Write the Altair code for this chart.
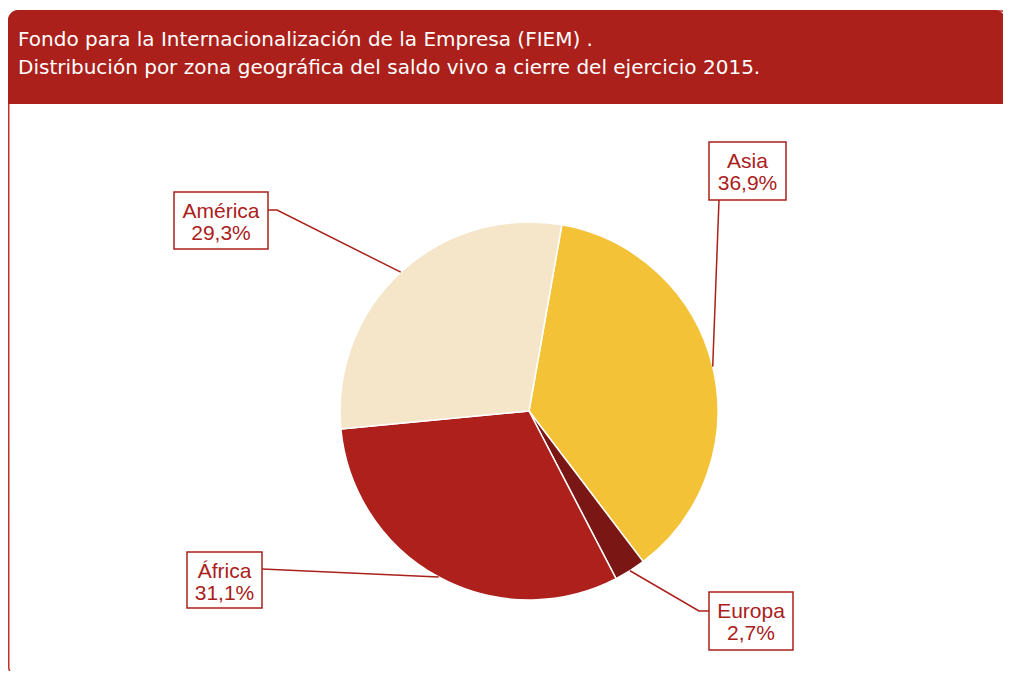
import math
import altair as alt
import pandas as pd

# ---- data ----
zones = ["Asia", "Europa", "África", "América"]
shares = [36.9, 2.7, 31.1, 29.3]
share_labels = ["36,9%", "2,7%", "31,1%", "29,3%"]
colors = ["#F4C236", "#7A1714", "#AD201C", "#F5E5C9"]
title_lines = [
    "Fondo para la Internacionalización de la Empresa (FIEM) .",
    "Distribución por zona geográfica del saldo vivo a cierre del ejercicio 2015.",
]

# ---- layout (chart pixel coordinates) ----
W, H = 995, 663
CX, CY, R = 521, 403, 189
START = math.radians(10)
RED = "#AB201B"

box_x1 = [701, 701, 179, 166]
box_x2 = [778, 785, 254, 260]
box_y1 = [134, 584, 544, 184]
box_y2 = [192, 642, 600, 241]
leader_start = [(711, 192), (701, 603), (254, 561), (260, 202)]
leader_elbow = [None, (691, 603), None, (269, 202)]

pie_df = pd.DataFrame({"zone": zones, "share": shares, "rank": list(range(len(zones)))})

# leader end points at mid-angle of each slice, on the rim
ends = []
cum = 0.0
total = sum(shares)
for s in shares:
    mid = START + (cum + s / 2) / total * 2 * math.pi
    ends.append((CX + R * math.sin(mid), CY - R * math.cos(mid)))
    cum += s

rows = []
for i, z in enumerate(zones):
    pts = [leader_start[i]]
    if leader_elbow[i]:
        pts.append(leader_elbow[i])
    pts.append(ends[i])
    for k, (px, py) in enumerate(pts):
        rows.append({"zone": z, "step": k, "px": px, "py": py})
line_df = pd.DataFrame(rows)

box_df = pd.DataFrame({
    "zone": zones, "x1": box_x1, "x2": box_x2, "y1": box_y1, "y2": box_y2,
    "pct": share_labels,
})
box_df["cx"] = (box_df["x1"] + box_df["x2"]) / 2
box_df["ty1"] = box_df["y1"] + 20
box_df["ty2"] = box_df["y1"] + 42

title_df = pd.DataFrame({"t": title_lines, "ty": [38, 66]})

# ---- frame ----
frame = alt.Chart(pd.DataFrame({"a": [0]})).mark_rect(
    fill="white", stroke="#C0302A", strokeWidth=1.5, cornerRadius=10
).encode(x=alt.value(0.75), x2=alt.value(1010), y=alt.value(3), y2=alt.value(669))

header = alt.Chart(pd.DataFrame({"a": [0]})).mark_rect(
    fill=RED, cornerRadiusTopLeft=10, cornerRadiusTopRight=10
).encode(x=alt.value(0), x2=alt.value(997), y=alt.value(2), y2=alt.value(96))

title = alt.Chart(title_df).mark_text(
    align="left", baseline="alphabetic", font="DejaVu Sans", fontSize=20, color="white"
).encode(x=alt.value(10), y=alt.Y("ty:Q", scale=None), text="t:N")

# ---- pie ----
pie = alt.Chart(pie_df).mark_arc(
    outerRadius=R, stroke="white", strokeWidth=1.5
).encode(
    theta=alt.Theta("share:Q", stack=True,
                    scale=alt.Scale(range=[START, START + 2 * math.pi])),
    order=alt.Order("rank:Q"),
    color=alt.Color("zone:N", scale=alt.Scale(domain=zones, range=colors), legend=None),
    x=alt.value(CX), y=alt.value(CY),
)

leaders = alt.Chart(line_df).mark_line(color=RED, strokeWidth=1.5).encode(
    x=alt.X("px:Q", scale=None), y=alt.Y("py:Q", scale=None),
    detail="zone:N", order="step:Q",
)

boxes = alt.Chart(box_df).mark_rect(fill="white", stroke=RED, strokeWidth=1.5).encode(
    x=alt.X("x1:Q", scale=None), x2="x2:Q", y=alt.Y("y1:Q", scale=None), y2="y2:Q",
)

name_text = alt.Chart(box_df).mark_text(
    font="Liberation Sans", fontSize=21, color=RED, baseline="middle"
).encode(x=alt.X("cx:Q", scale=None), y=alt.Y("ty1:Q", scale=None), text="zone:N")

pct_text = alt.Chart(box_df).mark_text(
    font="Liberation Sans", fontSize=21, color=RED, baseline="middle"
).encode(x=alt.X("cx:Q", scale=None), y=alt.Y("ty2:Q", scale=None), text="pct:N")

chart = alt.layer(
    frame, header, title, pie, leaders, boxes, name_text, pct_text
).properties(
    width=W, height=H, padding=0, autosize=alt.AutoSizeParams(type="none"),
    background="white",
).configure_view(stroke=None)

chart.save("out.html", embed_options={"renderer": "svg", "actions": False})
